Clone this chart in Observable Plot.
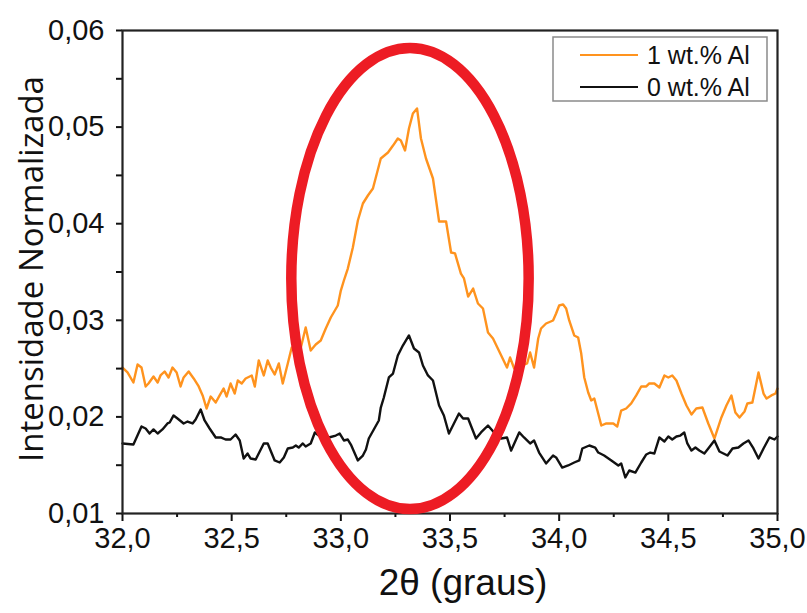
<!DOCTYPE html>
<html>
<head>
<meta charset="utf-8">
<script src="https://cdn.jsdelivr.net/npm/d3@7"></script>
<script src="https://cdn.jsdelivr.net/npm/@observablehq/plot@0.6"></script>
<style>
  html, body { margin: 0; padding: 0; background: #fff; }
  #chart svg { display: block; }
</style>
</head>
<body>
<div id="chart"></div>
<script>
// 1 wt.% Al (orange) — 2θ and normalised intensity
const x1 = [32.000,32.023,32.050,32.069,32.087,32.106,32.119,32.142,32.161,32.174,32.193,32.211,32.229,32.248,32.266,32.280,32.303,32.326,32.349,32.367,32.385,32.404,32.427,32.445,32.463,32.477,32.495,32.514,32.528,32.546,32.564,32.592,32.606,32.624,32.647,32.665,32.679,32.697,32.716,32.734,32.757,32.775,32.794,32.817,32.839,32.862,32.885,32.908,32.931,32.954,32.986,33.000,33.014,33.032,33.055,33.078,33.101,33.124,33.147,33.183,33.216,33.239,33.261,33.275,33.294,33.312,33.330,33.349,33.367,33.390,33.422,33.450,33.482,33.505,33.523,33.550,33.564,33.583,33.606,33.628,33.651,33.674,33.697,33.761,33.775,33.794,33.853,33.867,33.885,33.904,33.917,33.940,33.972,33.986,34.000,34.018,34.032,34.046,34.069,34.087,34.101,34.115,34.133,34.147,34.161,34.193,34.216,34.248,34.266,34.284,34.307,34.330,34.353,34.376,34.399,34.413,34.436,34.459,34.482,34.500,34.518,34.537,34.560,34.583,34.606,34.628,34.656,34.683,34.711,34.743,34.766,34.789,34.807,34.826,34.849,34.862,34.885,34.913,34.936,34.950,34.972,34.991,35.000];
const y1 = [0.02511,0.02460,0.02356,0.02542,0.02511,0.02315,0.02346,0.02418,0.02356,0.02429,0.02470,0.02408,0.02511,0.02460,0.02315,0.02408,0.02470,0.02398,0.02315,0.02222,0.02087,0.02211,0.02149,0.02222,0.02294,0.02211,0.02346,0.02242,0.02377,0.02346,0.02398,0.02429,0.02315,0.02584,0.02429,0.02584,0.02511,0.02439,0.02553,0.02346,0.02553,0.02718,0.02667,0.02718,0.02926,0.02687,0.02749,0.02791,0.02915,0.03029,0.03153,0.03308,0.03412,0.03536,0.03754,0.04033,0.04209,0.04292,0.04364,0.04675,0.04737,0.04809,0.04882,0.04861,0.04758,0.04986,0.05141,0.05193,0.04882,0.04675,0.04468,0.04023,0.04023,0.03702,0.03692,0.03484,0.03433,0.03246,0.03329,0.03174,0.03122,0.02874,0.02812,0.02511,0.02615,0.02501,0.02553,0.02667,0.02511,0.02812,0.02915,0.02967,0.02998,0.03070,0.03153,0.03164,0.03122,0.02998,0.02843,0.02822,0.02656,0.02408,0.02253,0.02170,0.02190,0.01911,0.01932,0.01932,0.01901,0.02066,0.02087,0.02139,0.02222,0.02315,0.02315,0.02346,0.02346,0.02304,0.02429,0.02408,0.02429,0.02377,0.02242,0.02118,0.02025,0.02087,0.02097,0.01932,0.01776,0.01994,0.02118,0.02222,0.02046,0.01994,0.02056,0.02139,0.02149,0.02460,0.02242,0.02190,0.02222,0.02242,0.02294];

// 0 wt.% Al (black)
const x0 = [32.000,32.050,32.087,32.106,32.124,32.142,32.161,32.183,32.206,32.216,32.234,32.252,32.280,32.298,32.321,32.335,32.358,32.376,32.399,32.427,32.450,32.472,32.495,32.518,32.537,32.555,32.573,32.587,32.610,32.647,32.665,32.697,32.720,32.739,32.757,32.780,32.794,32.807,32.826,32.839,32.862,32.881,32.899,32.922,32.945,32.977,32.995,33.014,33.032,33.046,33.060,33.078,33.101,33.115,33.128,33.151,33.174,33.183,33.197,33.220,33.239,33.261,33.284,33.312,33.335,33.358,33.376,33.399,33.422,33.450,33.472,33.495,33.518,33.541,33.560,33.583,33.619,33.642,33.674,33.702,33.734,33.761,33.780,33.817,33.839,33.867,33.885,33.908,33.940,33.972,33.986,34.014,34.041,34.069,34.092,34.106,34.138,34.165,34.179,34.206,34.239,34.271,34.284,34.303,34.321,34.349,34.376,34.399,34.417,34.436,34.459,34.482,34.500,34.518,34.537,34.555,34.573,34.587,34.606,34.624,34.642,34.665,34.683,34.711,34.734,34.771,34.794,34.821,34.844,34.867,34.890,34.913,34.936,34.963,34.986,35.000];
const y0 = [0.01725,0.01714,0.01901,0.01880,0.01828,0.01870,0.01828,0.01870,0.01932,0.01942,0.02015,0.01983,0.01932,0.01952,0.01932,0.01973,0.02077,0.01963,0.01880,0.01787,0.01787,0.01766,0.01766,0.01818,0.01756,0.01569,0.01621,0.01569,0.01559,0.01725,0.01725,0.01549,0.01528,0.01580,0.01673,0.01683,0.01704,0.01683,0.01725,0.01694,0.01725,0.01839,0.01807,0.01776,0.01787,0.01807,0.01828,0.01756,0.01766,0.01714,0.01642,0.01549,0.01600,0.01663,0.01776,0.01870,0.01963,0.02097,0.02201,0.02408,0.02449,0.02636,0.02739,0.02843,0.02708,0.02667,0.02532,0.02429,0.02377,0.02118,0.02015,0.01828,0.01932,0.02035,0.01983,0.01983,0.01776,0.01839,0.01911,0.01839,0.01776,0.01787,0.01652,0.01839,0.01787,0.01725,0.01756,0.01631,0.01518,0.01600,0.01580,0.01476,0.01497,0.01528,0.01549,0.01673,0.01704,0.01683,0.01631,0.01600,0.01549,0.01497,0.01518,0.01373,0.01445,0.01424,0.01528,0.01611,0.01631,0.01621,0.01787,0.01745,0.01797,0.01766,0.01797,0.01807,0.01839,0.01725,0.01652,0.01683,0.01652,0.01621,0.01673,0.01756,0.01642,0.01600,0.01673,0.01683,0.01725,0.01756,0.01673,0.01569,0.01673,0.01787,0.01766,0.01797];

const seriesNames = ["1 wt.% Al", "0 wt.% Al"];
const seriesColors = ["#ff931e", "#111111"];
const xMajorTicks = [32.0, 32.5, 33.0, 33.5, 34.0, 34.5, 35.0];
const xMinorTicks = [32.25, 32.75, 33.25, 33.75, 34.25, 34.75];
const yTicks = [0.01, 0.02, 0.03, 0.04, 0.05, 0.06];
const yMinorTicks = [0.015, 0.025, 0.035, 0.045, 0.055];
const xLabel = "2θ (graus)";
const yLabel = "Intensidade Normalizada";
// highlight ellipse (annotation) centre and radii in data units
const ellipseCenter = [33.319, 0.03427];
const ellipseRadius = [0.5436, 0.02386];

const data1 = x1.map((x, i) => ({x, y: y1[i]}));
const data0 = x0.map((x, i) => ({x, y: y0[i]}));

const comma = d => d.toFixed(d < 1 ? 2 : 1).replace(".", ",");

function ellipseMark(index, scales) {
  const {x, y} = scales;
  const cx = x(ellipseCenter[0]), cy = y(ellipseCenter[1]);
  const rx = x(ellipseCenter[0] + ellipseRadius[0]) - cx;
  const ry = cy - y(ellipseCenter[1] + ellipseRadius[1]);
  return d3.create("svg:ellipse")
    .attr("cx", cx).attr("cy", cy).attr("rx", rx).attr("ry", ry)
    .attr("fill", "none").attr("stroke", "#ed1c24").attr("stroke-width", 10.5)
    .node();
}

function legendMark(index, scales, values, dims) {
  const g = d3.create("svg:g");
  const right = dims.width - dims.marginRight;
  const top = dims.marginTop;
  g.append("rect").attr("x", right - 224).attr("y", top + 7).attr("width", 214).attr("height", 64)
    .attr("fill", "#fff").attr("stroke", "#8a8a8a").attr("stroke-width", 1.5);
  seriesNames.forEach((name, i) => {
    const yy = top + 25 + i * 32;
    g.append("line").attr("x1", right - 197).attr("x2", right - 139).attr("y1", yy).attr("y2", yy)
      .attr("stroke", seriesColors[i]).attr("stroke-width", 2.2);
    g.append("text").attr("x", right - 130).attr("y", yy + 9)
      .attr("text-anchor", "start")
      .attr("font-size", 25).attr("font-family", "Liberation Sans, Arial, sans-serif")
      .attr("fill", "#111").text(name);
  });
  return g.node();
}

const chart = Plot.plot({
  width: 807,
  height: 613,
  marginLeft: 122,
  marginRight: 30,
  marginTop: 30,
  marginBottom: 100,
  style: {fontFamily: "Liberation Sans, Arial, sans-serif", fontSize: "30px", color: "#111", background: "#fff"},
  x: {domain: [32, 35]},
  y: {domain: [0.01, 0.06]},
  marks: [
    Plot.line(data1, {x: "x", y: "y", stroke: seriesColors[0], strokeWidth: 2.4}),
    Plot.line(data0, {x: "x", y: "y", stroke: seriesColors[1], strokeWidth: 2.4}),
    Plot.axisX({ticks: xMajorTicks, tickSize: 8, tickPadding: 6, tickFormat: comma, label: null, fontSize: 29, strokeWidth: 2}),
    Plot.axisX({ticks: xMinorTicks, tickSize: 4, tickFormat: () => "", label: null, strokeWidth: 2}),
    Plot.axisY({ticks: yTicks, tickSize: 6, tickPadding: 12, tickFormat: comma, label: null, fontSize: 29, strokeWidth: 2}),
    Plot.axisY({ticks: yMinorTicks, tickSize: 6, tickFormat: () => "", label: null, strokeWidth: 2}),
    Plot.frame({stroke: "#222", strokeWidth: 2.2}),
    ellipseMark,
    legendMark,
    Plot.text([xLabel], {frameAnchor: "bottom", dx: 13, dy: 81, text: d => d, fontSize: 37, fill: "#111", textAnchor: "middle"}),
    Plot.text([yLabel], {frameAnchor: "left", dx: -90, dy: -3, rotate: -90, text: d => d, fontSize: 33, fill: "#111", textAnchor: "middle", fontFamily: "Open Sans, sans-serif"})
  ]
});
document.getElementById("chart").append(chart);
</script>
</body>
</html>
